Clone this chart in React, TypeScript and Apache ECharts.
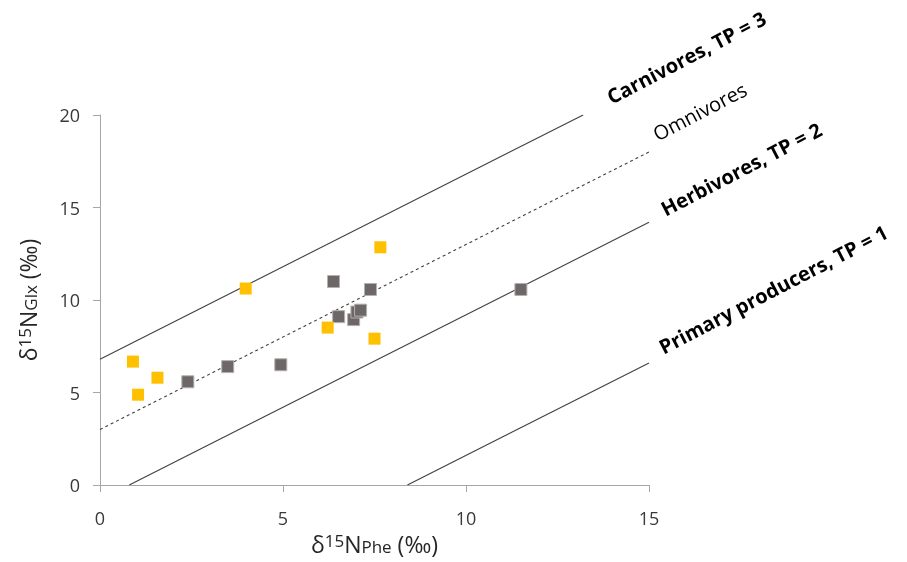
import React, { useEffect, useRef } from "react";
import * as echarts from "echarts";

// δ15N Phe (x) and δ15N Glx (y) for two groups of samples
const yellowX = [0.9, 1.04, 1.57, 3.98, 6.22, 7.5, 7.66];
const yellowY = [6.67, 4.88, 5.8, 10.62, 8.51, 7.91, 12.85];
const grayX = [2.4, 3.49, 4.94, 6.38, 6.52, 6.93, 7.02, 7.12, 7.39, 11.5];
const grayY = [5.58, 6.4, 6.5, 11.0, 9.1, 8.94, 9.35, 9.45, 10.57, 10.57];

// trophic position reference lines: [x, y] end points
const carnivoresLine = [[0, 6.8], [13.2, 20]];
const omnivoresLine = [[0, 3.0], [15, 18]];
const herbivoresLine = [[0.8, 0], [15, 14.2]];
const producersLine = [[8.4, 0], [15, 6.6]];

const xTicks = [0, 5, 10, 15];
const yTicks = [0, 5, 10, 15, 20];

const labels = [
  { text: "Carnivores, TP = 3", bold: true },
  { text: "Omnivores", bold: false },
  { text: "Herbivores, TP = 2", bold: true },
  { text: "Primary producers, TP = 1", bold: true },
];

const FONT = "'Open Sans', sans-serif";

export default function App() {
  const ref = useRef<HTMLDivElement>(null);
  useEffect(() => {
    if (!ref.current) return;
    const chart = echarts.init(ref.current, undefined, { renderer: "svg" });
    const zip = (xs: number[], ys: number[]) => xs.map((x, i) => [x, ys[i]]);
    const lineSeries = (data: number[][], dashed: boolean) => ({
      type: "line",
      data,
      symbol: "none",
      silent: true,
      z: 1,
      lineStyle: { color: "#404040", width: 1.1, type: dashed ? [3, 3] : "solid" },
    });
    const rot = (27.5 * Math.PI) / 180;
    const labelPos = [
      [613, 107],
      [659, 144],
      [667, 219],
      [665, 357],
    ];
    const richTitle = {
      sup: { fontSize: 17, verticalAlign: "top", fontFamily: FONT, color: "#262626" },
      sub: { fontSize: 17, verticalAlign: "bottom", fontFamily: FONT, color: "#262626" },
    };
    chart.setOption({
      animation: false,
      grid: { left: 100, right: 258, top: 115, bottom: 77 },
      xAxis: {
        type: "value",
        min: xTicks[0],
        max: xTicks[xTicks.length - 1],
        interval: 5,
        splitLine: { show: false },
        axisLine: { lineStyle: { color: "#a6a6a6" } },
        axisTick: { show: true, length: 7, lineStyle: { color: "#a6a6a6" } },
        axisLabel: { color: "#3a3a3a", fontSize: 18, fontFamily: FONT, margin: 24 },
        name: "δ{sup|15}N{sub|Phe} (‰)",
        nameLocation: "middle",
        nameGap: 47,
        nameTextStyle: {
          color: "#262626",
          fontSize: 23,
          fontFamily: FONT,
          rich: richTitle,
        },
      },
      yAxis: {
        type: "value",
        min: yTicks[0],
        max: yTicks[yTicks.length - 1],
        interval: 5,
        splitLine: { show: false },
        axisLine: { show: true, lineStyle: { color: "#a6a6a6" } },
        axisTick: { show: true, length: 7, lineStyle: { color: "#a6a6a6" } },
        axisLabel: { color: "#3a3a3a", fontSize: 18, fontFamily: FONT, margin: 20 },
        name: "δ{sup|15}N{sub|Glx} (‰)",
        nameLocation: "middle",
        nameGap: 61,
        nameRotate: 90,
        nameTextStyle: {
          color: "#262626",
          fontSize: 23,
          fontFamily: FONT,
          rich: richTitle,
        },
      },
      series: [
        lineSeries(carnivoresLine, false),
        lineSeries(omnivoresLine, true),
        lineSeries(herbivoresLine, false),
        lineSeries(producersLine, false),
        {
          type: "scatter",
          data: zip(grayX, grayY),
          symbol: "rect",
          symbolSize: 12,
          z: 3,
          itemStyle: { color: "#6e6767", borderColor: "#b5b0b0", borderWidth: 1, opacity: 1 },
        },
        {
          type: "scatter",
          data: zip(yellowX, yellowY),
          symbol: "rect",
          symbolSize: 12,
          z: 3,
          itemStyle: { color: "#ffc000", opacity: 1 },
        },
      ],
      graphic: labels.map((l, i) => ({
        type: "text",
        x: labelPos[i][0],
        y: labelPos[i][1],
        rotation: rot,
        style: {
          text: l.text,
          fill: "#000000",
          font: `${l.bold ? "bold " : ""}20px ${FONT}`,
          textAlign: "left",
          textVerticalAlign: "bottom",
        },
      })),
    });
    return () => chart.dispose();
  }, []);
  return (
    <div
      ref={ref}
      style={{ position: "fixed", left: 0, top: 0, width: 907, height: 562 }}
    />
  );
}
